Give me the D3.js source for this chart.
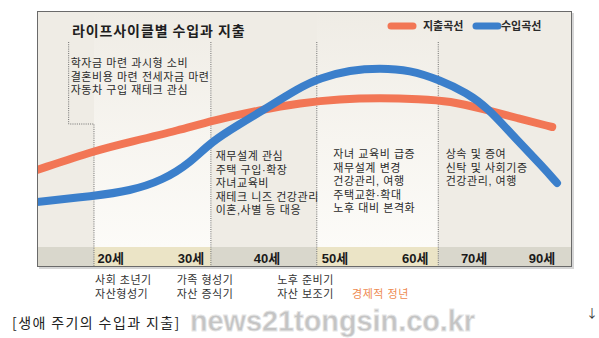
<!DOCTYPE html>
<html>
<head>
<meta charset="utf-8">
<script src="https://cdn.jsdelivr.net/npm/d3@7"></script>
<style>
  html, body { margin: 0; padding: 0; background: #ffffff; }
  svg { display: block; font-family: "Noto Sans CJK KR", "Noto Sans", sans-serif; }
</style>
</head>
<body>
<svg id="chart" width="599" height="338"></svg>
<script>
// Life-cycle position (0 = start, 100 = end of life span) and relative level (0-100)
const incomeT   = [0, 10.5, 17.4, 23.6, 28.6, 32.5, 37.9, 41.7, 49.2, 52.9, 58.5, 64.1, 69.7, 75.3, 80.4, 84.1, 89.7, 94.6, 97.2];
const incomeV   = [24, 27, 29.5, 35, 43.5, 54, 63, 69, 81.5, 86, 90, 91, 90, 85, 78.5, 71.5, 55, 41.5, 33.5];
const spendT    = [0, 11.2, 17.4, 26.7, 32.5, 41.7, 49.2, 56.6, 64.1, 71.6, 77.2, 83.4, 89.7, 96.3];
const spendV    = [40, 50, 54, 60, 64.5, 70, 73.5, 75.5, 76, 75.5, 74.5, 70.5, 66, 61.5];

// Stage boundaries along the life-cycle axis
const stageBounds = [0, 10.65, 32.5, 52.3, 75.0, 100];
const stageLight  = [false, true, false, true, false];

// Age ticks in the bottom band
const ageLabels = ["20세", "30세", "40세", "50세", "60세", "70세", "90세"];
const agePos    = [13.8, 28.8, 43.0, 55.7, 70.7, 81.7, 94.4];

// Stage descriptions inside the panel
const stageNotes = [
  { t: 6.2,  lines: ["학자금 마련 과시형 소비", "결혼비용 마련 전세자금 마련", "자동차 구입 재테크 관심"], top: 67 },
  { t: 33.3, lines: ["재무설계 관심", "주택 구입·확장", "자녀교육비", "재테크 니즈 건강관리", "이혼,사별 등 대응"], top: 160 },
  { t: 55.3, lines: ["자녀 교육비 급증", "재무설계 변경", "건강관리, 여행", "주택교환·확대", "노후 대비 본격화"], top: 158 },
  { t: 76.3, lines: ["상속 및 증여", "신탁 및 사회기증", "건강관리, 여행"], top: 158 }
];

// Stage names under the panel
const phaseNotes = [
  { t: 10.85, lines: ["사회 초년기", "자산형성기"], color: "#333333" },
  { t: 26.1,  lines: ["가족 형성기", "자산 증식기"], color: "#333333" },
  { t: 44.9,  lines: ["노후 준비기", "자산 보조기"], color: "#333333" },
  { t: 58.9,  lines: [null, "경제적 정년"], color: "#ee8a4f" }
];

const title = "라이프사이클별 수입과 지출";
const legendItems = [
  { name: "지출곡선", color: "#f27655" },
  { name: "수입곡선", color: "#3b7fcb" }
];
const caption = "[생애 주기의 수입과 지출]";
const watermark = "news21tongsin.co.kr";

// Compact line metrics for stacked note lines; Hangul falls back to Noto Sans CJK
const noteFont = "'Liberation Sans', 'Noto Sans CJK KR', sans-serif";

const svg = d3.select("#chart");
const panel = { x0: 37, x1: 572, y0: 11, y1: 267, bandTop: 247 };

const x = d3.scaleLinear().domain([0, 100]).range([panel.x0, panel.x1]);
const y = d3.scaleLinear().domain([0, 100]).range([250, 50]);

const defs = svg.append("defs");
const grad = defs.append("linearGradient").attr("id", "lightCol")
  .attr("x1", 0).attr("y1", 0).attr("x2", 0).attr("y2", 1);
grad.append("stop").attr("offset", "0%").attr("stop-color", "#efece5");
grad.append("stop").attr("offset", "55%").attr("stop-color", "#f7f5f0");
grad.append("stop").attr("offset", "100%").attr("stop-color", "#fcfbf8");

defs.append("clipPath").attr("id", "panelClip").append("rect")
  .attr("x", panel.x0).attr("y", panel.y0)
  .attr("width", panel.x1 - panel.x0).attr("height", panel.y1 - panel.y0);

// Panel shadow and background
svg.append("rect")
  .attr("x", panel.x0 + 2).attr("y", panel.y0 + 2)
  .attr("width", panel.x1 - panel.x0).attr("height", panel.y1 - panel.y0)
  .attr("fill", "#d6d6d6");
svg.append("rect")
  .attr("x", panel.x0).attr("y", panel.y0)
  .attr("width", panel.x1 - panel.x0).attr("height", panel.y1 - panel.y0)
  .attr("fill", "#efece5");

// Stage columns and bottom band
const stages = d3.range(stageBounds.length - 1).map(i => ({
  a: stageBounds[i], b: stageBounds[i + 1], light: stageLight[i]
}));
svg.append("g").selectAll("rect").data(stages.filter(s => s.light)).join("rect")
  .attr("x", d => x(d.a)).attr("y", panel.y0)
  .attr("width", d => x(d.b) - x(d.a)).attr("height", panel.bandTop - panel.y0)
  .attr("fill", "url(#lightCol)");
svg.append("g").selectAll("rect").data(stages).join("rect")
  .attr("x", d => x(d.a)).attr("y", panel.bandTop)
  .attr("width", d => x(d.b) - x(d.a)).attr("height", panel.y1 - panel.bandTop)
  .attr("fill", d => d.light ? "#ebe4c6" : "#d9d7cc");

// Dotted stage dividers (first one steps around the text block)
const dotted = { stroke: "#6f6f6f", dash: "1,1.2" };
const stepPath = d3.path();
stepPath.moveTo(x(stageNotes[0].t) - 1.5, 42);
stepPath.lineTo(x(stageNotes[0].t) - 1.5, 124);
stepPath.lineTo(x(stageBounds[1]), 124);
stepPath.lineTo(x(stageBounds[1]), panel.y1);
svg.append("path").attr("d", stepPath.toString())
  .attr("fill", "none").attr("stroke", dotted.stroke)
  .attr("stroke-width", 1).attr("stroke-dasharray", dotted.dash);
svg.append("g").selectAll("line").data(stageBounds.slice(2, 5)).join("line")
  .attr("x1", d => x(d)).attr("x2", d => x(d))
  .attr("y1", 42).attr("y2", panel.y1)
  .attr("stroke", dotted.stroke).attr("stroke-width", 1)
  .attr("stroke-dasharray", dotted.dash);

// Curves
const line = d3.line().x(d => x(d[0])).y(d => y(d[1])).curve(d3.curveBasis);
const curves = svg.append("g").attr("clip-path", "url(#panelClip)");
curves.append("path").datum(d3.zip(spendT, spendV))
  .attr("d", line).attr("fill", "none")
  .attr("stroke", legendItems[0].color).attr("stroke-width", 8)
  .attr("stroke-linecap", "round");
curves.append("path").datum(d3.zip(incomeT, incomeV))
  .attr("d", line).attr("fill", "none")
  .attr("stroke", legendItems[1].color).attr("stroke-width", 8)
  .attr("stroke-linecap", "round");

// Panel border
svg.append("rect")
  .attr("x", panel.x0 + 0.5).attr("y", panel.y0 + 0.5)
  .attr("width", panel.x1 - panel.x0 - 1).attr("height", panel.y1 - panel.y0 - 1)
  .attr("fill", "none").attr("stroke", "#6a6a6a").attr("stroke-width", 1);

// Title
svg.append("text").attr("x", 72).attr("y", 36)
  .attr("font-size", 14).attr("font-weight", "bold").attr("fill", "#1e1e1e")
  .attr("letter-spacing", 0.9)
  .text(title);

// Legend
const legendPos = [{ lx: 388, tx: 423 }, { lx: 473, tx: 501 }];
const lg = svg.append("g").selectAll("g").data(legendItems).join("g");
lg.append("line")
  .attr("x1", (d, i) => legendPos[i].lx + 3).attr("x2", (d, i) => legendPos[i].lx + 25)
  .attr("y1", 26).attr("y2", 26)
  .attr("stroke", d => d.color).attr("stroke-width", 7).attr("stroke-linecap", "round");
lg.append("text")
  .attr("x", (d, i) => legendPos[i].tx).attr("y", 30)
  .attr("font-size", 11).attr("font-weight", "bold").attr("fill", "#2a2a2a")
  .text(d => d.name);

// Stage notes, one text element per line
const noteLines = stageNotes.flatMap(d => d.lines.map((l, i) => ({ l, x: x(d.t) + 0.5, y: d.top + i * 13.6 })));
svg.append("g").selectAll("text").data(noteLines).join("text")
  .attr("x", d => d.x).attr("y", d => d.y)
  .attr("font-family", noteFont)
  .attr("font-size", 11).attr("letter-spacing", 0.55).attr("fill", "#2b2b2b")
  .text(d => d.l);

// Age labels
svg.append("g").selectAll("text").data(ageLabels).join("text")
  .attr("x", (d, i) => x(agePos[i])).attr("y", 263)
  .attr("text-anchor", "middle")
  .attr("font-size", 13).attr("font-weight", "bold").attr("fill", "#1a1a1a")
  .attr("font-family", "'Liberation Sans', 'Noto Sans CJK KR', sans-serif")
  .text(d => d);

// Phase names below the panel
const phaseLines = phaseNotes.flatMap(d => d.lines
  .map((l, i) => ({ l, x: x(d.t), y: 284 + i * 13.5, color: d.color }))
  .filter(e => e.l));
svg.append("g").selectAll("text").data(phaseLines).join("text")
  .attr("x", d => d.x).attr("y", d => d.y)
  .attr("font-family", noteFont)
  .attr("font-size", 11).attr("letter-spacing", 0.5).attr("fill", d => d.color)
  .text(d => d.l);

// Caption and watermark
svg.append("text").attr("x", 12).attr("y", 328)
  .attr("font-size", 14).attr("letter-spacing", 1.4).attr("fill", "#222222")
  .text(caption);
svg.append("text").attr("x", 190).attr("y", 331)
  .attr("font-family", "'Liberation Sans', Arial, sans-serif")
  .attr("font-weight", "bold")
  .attr("font-size", 30).attr("textLength", 285).attr("lengthAdjust", "spacingAndGlyphs")
  .attr("fill", "#c4c4c4").attr("stroke", "#e6e6e6").attr("stroke-width", 0.8)
  .text(watermark);
svg.append("text").attr("x", 586).attr("y", 318)
  .attr("font-size", 12).attr("fill", "#333333")
  .text("↓");
</script>
</body>
</html>
